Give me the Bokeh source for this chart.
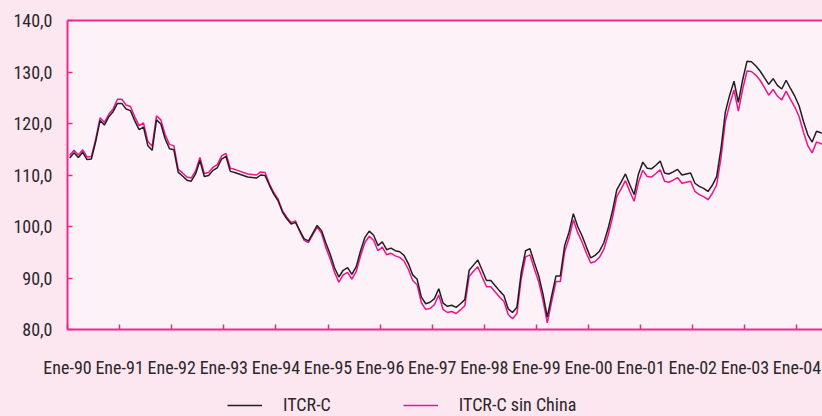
from bokeh.plotting import figure
from bokeh.layouts import column
from bokeh.models import (FixedTicker, LinearAxis, Legend, LegendItem, Range1d, ColumnDataSource)
from bokeh.embed import file_html
from bokeh.resources import INLINE

# ITCR-C (monthly index, Jan-1990 onward)
itcr_c = [
    113.3, 114.3, 113.4, 114.4, 113.0, 113.1, 116.5, 120.6, 119.7, 121.3, 122.3, 123.9,
    123.9, 122.8, 122.5, 120.5, 118.8, 119.3, 115.7, 114.8, 120.7, 119.9, 117.0, 115.1,
    114.9, 110.5, 109.8, 109.0, 108.8, 110.2, 112.8, 109.7, 109.9, 110.9, 111.4, 113.1,
    113.6, 110.7, 110.5, 110.2, 109.9, 109.6, 109.5, 109.4, 110.0, 109.9, 108.0, 106.3,
    105.0, 102.8, 101.5, 100.5, 100.8, 99.2, 97.6, 97.2, 98.7, 100.2, 99.2, 96.8,
    94.6, 92.0, 90.2, 91.5, 92.0, 90.7, 92.2, 95.3, 97.9, 99.1, 98.3, 96.3,
    97.0, 95.5, 95.8, 95.3, 95.1, 94.4, 92.8, 90.6, 89.8, 86.3, 85.0, 85.3,
    86.0, 87.9, 85.1, 84.5, 84.7, 84.3, 85.0, 85.8, 91.5, 92.5, 93.5, 91.5,
    89.5, 89.5, 88.5, 87.5, 86.6, 84.0, 83.3, 84.3, 91.1, 95.3, 95.7, 93.0,
    90.5, 86.9, 82.4, 86.5, 90.4, 90.4, 96.3, 98.9, 102.5, 100.0, 98.2, 96.0,
    93.9, 94.4, 95.2, 96.8, 99.6, 103.0, 107.1, 108.6, 110.2, 108.1, 106.2, 110.2,
    112.5, 111.3, 111.2, 111.9, 112.7, 110.4, 110.2, 110.6, 111.1, 110.0, 110.2, 110.4,
    108.4, 107.8, 107.4, 106.8, 108.0, 109.7, 115.1, 122.2, 125.5, 128.2, 124.1, 128.5,
    132.1, 132.0, 131.2, 130.2, 128.9, 127.6, 128.7, 127.4, 126.7, 128.4, 126.8, 125.3,
    123.4, 120.4, 117.8, 116.4, 118.5, 118.2, 118.0,
]

# ITCR-C sin China
itcr_c_sin_china = [
    113.8, 114.8, 113.9, 114.9, 113.5, 113.6, 117.0, 121.1, 120.2, 121.8, 122.8, 124.7,
    124.7, 123.6, 123.3, 121.3, 119.6, 120.1, 116.5, 115.6, 121.5, 120.7, 117.8, 115.9,
    115.7, 111.1, 110.4, 109.6, 109.4, 110.8, 113.4, 110.3, 110.5, 111.5, 112.0, 113.7,
    114.2, 111.3, 111.1, 110.8, 110.5, 110.2, 110.1, 110.0, 110.6, 110.5, 108.3, 106.6,
    105.3, 103.1, 101.8, 100.8, 101.1, 99.0, 97.3, 96.9, 98.4, 99.9, 98.7, 95.9,
    93.7, 91.1, 89.2, 90.6, 91.1, 89.8, 91.3, 94.3, 96.9, 98.1, 97.3, 95.3,
    96.0, 94.5, 94.8, 94.3, 94.0, 93.3, 91.7, 89.5, 88.7, 85.2, 83.9, 84.1,
    84.8, 86.7, 83.9, 83.3, 83.5, 83.1, 83.8, 84.6, 90.3, 91.3, 92.2, 90.2,
    88.3, 88.3, 87.3, 86.3, 85.5, 82.9, 82.1, 83.1, 89.9, 94.1, 94.5, 91.8,
    89.3, 85.7, 81.3, 85.4, 89.3, 89.3, 95.1, 97.7, 101.3, 98.8, 97.0, 94.8,
    92.9, 93.2, 94.0, 95.5, 98.3, 101.7, 105.8, 107.3, 108.9, 106.8, 104.9, 108.6,
    110.9, 109.7, 109.6, 110.3, 111.0, 108.8, 108.6, 109.0, 109.5, 108.4, 108.6, 108.8,
    106.8, 106.2, 105.8, 105.2, 106.4, 108.1, 113.3, 120.4, 123.7, 126.5, 122.4, 126.7,
    130.2, 130.1, 129.4, 128.4, 127.0, 125.5, 126.6, 125.3, 124.6, 126.3, 124.7, 123.2,
    121.3, 118.3, 115.7, 114.3, 116.4, 116.1, 115.9,
]

start_year = 1990
year_ticks = list(range(1990, 2005))
year_labels = ["Ene-90", "Ene-91", "Ene-92", "Ene-93", "Ene-94", "Ene-95", "Ene-96",
               "Ene-97", "Ene-98", "Ene-99", "Ene-00", "Ene-01", "Ene-02", "Ene-03", "Ene-04"]
y_ticks = [80, 90, 100, 110, 120, 130, 140]
y_labels = ["80,0", "90,0", "100,0", "110,0", "120,0", "130,0", "140,0"]
series_names = ["ITCR-C", "ITCR-C sin China"]

# monthly positions (mid-month, category axis style)
months = [start_year + (i + 0.5) / 12 for i in range(len(itcr_c))]
src = ColumnDataSource(dict(x=months, a=itcr_c, b=itcr_c_sin_china))

OUTER = "#fce6f0"
INNER = "#fdf2f7"
MAG = "#ec2a8e"
BLACK = "#231f20"
PINK = "#f0148c"
FONT = "'Roboto Condensed', 'DejaVu Sans Condensed', 'Open Sans'"
TXT = "#2b2628"

p = figure(width=822, height=390, output_backend="svg", toolbar_location=None,
           x_range=Range1d(1990, 2004.49), y_range=Range1d(80, 140),
           min_border_left=67, min_border_right=0, min_border_top=20, min_border_bottom=61,
           background_fill_color=INNER, border_fill_color=OUTER, outline_line_color=None)
p.xgrid.visible = False
p.ygrid.visible = False

p.line("x", "b", source=src, line_color=PINK, line_width=1.5)
p.line("x", "a", source=src, line_color=BLACK, line_width=1.5)

for ax in (p.xaxis[0], p.yaxis[0]):
    ax.axis_line_color = MAG
    ax.axis_line_width = 2
    ax.major_tick_line_color = MAG
    ax.major_tick_line_width = 1.5
    ax.major_tick_in = 5
    ax.major_tick_out = 0
    ax.minor_tick_line_color = None
    ax.major_label_text_font = FONT
    ax.major_label_text_font_size = "18px"
    ax.major_label_text_color = TXT

p.xaxis[0].ticker = FixedTicker(ticks=year_ticks)
p.xaxis[0].major_label_overrides = {t: l for t, l in zip(year_ticks, year_labels)}
p.xaxis[0].major_label_standoff = 27

p.yaxis[0].ticker = FixedTicker(ticks=y_ticks)
p.yaxis[0].major_label_overrides = {t: l for t, l in zip(y_ticks, y_labels)}
p.yaxis[0].major_label_standoff = 15

top = LinearAxis(ticker=FixedTicker(ticks=[]), axis_line_color=MAG, axis_line_width=2,
                 major_tick_line_color=None, minor_tick_line_color=None,
                 major_label_standoff=0, major_label_text_font_size="0px")
p.add_layout(top, "above")

# legend strip below the chart (its key renderers share the data but lie outside this strip's view)
lg = figure(width=822, height=26, output_backend="svg", toolbar_location=None,
            x_range=Range1d(0, 1), y_range=Range1d(0, 1),
            x_axis_type=None, y_axis_type=None,
            min_border_left=0, min_border_right=0, min_border_top=0, min_border_bottom=0,
            background_fill_color=OUTER, border_fill_color=OUTER, outline_line_color=None)
lg.xgrid.visible = False
lg.ygrid.visible = False
lk_black = lg.line("x", "a", source=src, line_color=BLACK, line_width=1.5)
lk_pink = lg.line("x", "b", source=src, line_color=PINK, line_width=1.5)

legend = Legend(items=[LegendItem(label=series_names[0], renderers=[lk_black]),
                       LegendItem(label=series_names[1], renderers=[lk_pink])],
                orientation="horizontal", location=(160, 1),
                padding=0, margin=0, spacing=72, glyph_width=35, glyph_height=20,
                label_standoff=21, label_text_font=FONT, label_text_font_size="18px",
                label_text_color=TXT, background_fill_alpha=0, border_line_color=None)
lg.add_layout(legend, "center")

page = column(p, lg, spacing=0)

html = file_html(page, INLINE)
html = html.replace("</head>", "<style>html,body{background-color:%s;}</style></head>" % OUTER, 1)
open("out.html", "w").write(html)
